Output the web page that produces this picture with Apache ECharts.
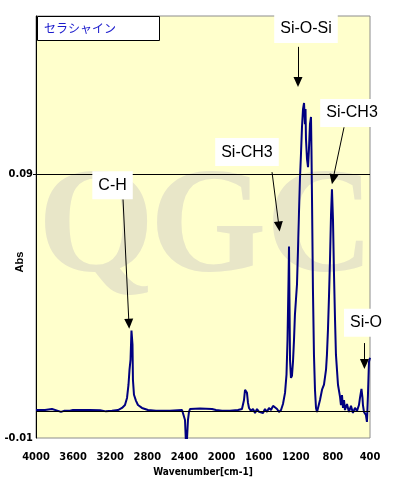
<!DOCTYPE html>
<html><head><meta charset="utf-8">
<script src="https://cdn.jsdelivr.net/npm/echarts@6/dist/echarts.min.js"></script>
<style>html,body{margin:0;padding:0;background:#fff}#c{width:396px;height:488px}</style>
</head><body><div id="c"></div>
<script>
// ---- data ----
const sampleName = 'セラシャイン';
const wavenumbers = [4000,3903,3828,3763,3731,3698,3634,3601,3418,3310,3246,3181,3116,3073,3041,3019,3003,2992,2981,2971,2960,2955,2944,2922,2901,2858,2793,2707,2556,2426,2405,2394,2383,2373,2362,2351,2340,2319,2232,2103,2060,1995,1909,1823,1780,1758,1747,1736,1726,1715,1704,1683,1661,1639,1618,1596,1575,1553,1532,1510,1489,1467,1445,1424,1402,1381,1359,1338,1316,1300,1289,1278,1273,1268,1262,1252,1241,1230,1219,1209,1198,1187,1176,1166,1155,1144,1133,1122,1111,1101,1095,1090,1079,1068,1058,1047,1036,1031,1025,1015,1004,993,982,971,961,939,917,896,874,864,853,842,831,820,810,799,788,777,767,745,723,713,702,691,680,670,648,627,605,584,562,540,519,508,492,481,476,465,454,444,433,422,411,400];
const absorbance = [0.0006,0.0006,0.0010,0.0003,-0.0001,0.0003,0.0003,0.0006,0.0006,0.0005,0.0001,0.0003,0.0006,0.0014,0.0025,0.0052,0.0102,0.0159,0.0197,0.0307,0.0254,0.0120,0.0064,0.0041,0.0025,0.0014,0.0006,0.0003,0.0003,0.0006,0.0003,-0.0032,-0.0125,-0.0108,-0.0032,-0.0001,0.0010,0.0014,0.0012,0.0010,0.0006,0.0003,0.0003,0.0006,0.0010,0.0044,0.0083,0.0090,0.0071,0.0033,0.0014,0.0003,0.0010,-0.0005,0.0010,-0.0001,0.0006,-0.0005,0.0010,-0.0001,0.0014,0.0006,0.0022,0.0025,0.0010,-0.0001,0.0006,0.0029,0.0071,0.0140,0.0273,0.0501,0.0626,0.0425,0.0197,0.0128,0.0136,0.0189,0.0273,0.0368,0.0425,0.0482,0.0615,0.0748,0.0881,0.0976,0.1079,0.1147,0.1170,0.1090,0.1147,0.1033,0.0957,0.0927,0.0995,0.1090,0.1117,0.0995,0.0805,0.0463,0.0216,0.0083,0.0014,-0.0001,0.0006,0.0044,0.0083,0.0102,0.0159,0.0216,0.0311,0.0436,0.0577,0.0748,0.0843,0.0729,0.0520,0.0349,0.0216,0.0102,0.0056,0.0025,0.0063,0.0014,0.0044,0.0006,0.0029,-0.0001,0.0022,-0.0005,0.0014,0.0003,0.0025,0.0052,0.0086,0.0052,0.0025,-0.0001,0.0006,-0.0013,-0.0039,0.0063,0.0189,0.0204];
const xTickLabels = [4000,3600,3200,2800,2400,2000,1600,1200,800,400];
const yTickLabels = [-0.01, 0.09];
const refLines = [0, 0.09];
const annotationLabels = ['C-H','Si-O-Si','Si-CH3','Si-CH3','Si-O'];
const annotationAt = [[3175,0.0858],[1090,0.1451],[1726,0.0984],[594,0.1132],[443,0.0337]];
const arrowFrom = [[3062,0.0805],[1176,0.1383],[1456,0.0908],[680,0.1078],[460,0.0260]];
const arrowTo = [[2998,0.0333],[1176,0.1250],[1381,0.0702],[799,0.0881],[460,0.0181]];

// ---- chart ----
const chart = echarts.init(document.getElementById('c'));
const axisFont = {fontFamily:"'Liberation Sans Narrow','DejaVu Sans Condensed','Liberation Sans',sans-serif", fontWeight:'bold', fontSize:11, color:'#000'};
const seriesData = wavenumbers.map((w,i)=>[w, absorbance[i]]);

const markLineData = refLines.map(v=>({yAxis:v, symbol:'none'}))
  .concat(arrowFrom.map((f,i)=>[{coord:f, symbol:'none'},{coord:arrowTo[i], symbol:'triangle'}]));

const wmFont = "bold 150px 'Liberation Serif', 'DejaVu Serif', serif";
const option = {
  animation:false,
  title:{text:sampleName, left:37, top:16, backgroundColor:'#fff', borderColor:'#000', borderWidth:1,
    padding:[6,44,6,7], textStyle:{fontFamily:"'Noto Sans CJK JP',sans-serif", fontWeight:'normal', fontSize:12, lineHeight:13, color:'#1a1acc'}},
  grid:{left:36, right:26, top:16, bottom:50, show:true, backgroundColor:'#ffffcc', borderColor:'#8c8c8c', borderWidth:1},
  graphic:[
    {type:'text', z:1, silent:true, style:{text:'Q', x:96, y:232, align:'center', verticalAlign:'middle', font:wmFont, fill:'#e8e6c8'}},
    {type:'text', z:1, silent:true, style:{text:'G', x:208, y:232, align:'center', verticalAlign:'middle', font:wmFont, fill:'#e8e6c8'}},
    {type:'text', z:1, silent:true, style:{text:'C', x:320, y:232, align:'center', verticalAlign:'middle', font:wmFont, fill:'#e8e6c8'}},
    {type:'text', z:5, silent:true, rotation:Math.PI/2, x:20, y:262, style:{text:'Abs', align:'center', verticalAlign:'middle', font:"bold 11px 'Liberation Sans Narrow', 'Liberation Sans', sans-serif", fill:'#000'}}
  ],
  xAxis:{type:'value', inverse:true, min:400, max:4000, interval:400,
    axisLine:{show:false}, axisTick:{show:false}, splitLine:{show:false},
    axisLabel:{...axisFont, margin:14, formatter:v=> xTickLabels.includes(v) ? String(v) : ''},
    name:'Wavenumber[cm-1]', nameLocation:'middle', nameGap:29, nameTextStyle:{...axisFont, fontSize:10}},
  yAxis:{type:'value', min:-0.01, max:0.15,
    axisLine:{show:true, lineStyle:{color:'#000', width:1}},
    axisTick:{show:true, customValues:[0.09], length:3, lineStyle:{color:'#000'}},
    splitLine:{show:false},
    axisLabel:{...axisFont, margin:3, customValues:yTickLabels, formatter:v=>v.toFixed(2)}},
  series:[{
    type:'line', data:seriesData, showSymbol:false, clip:true, z:2,
    lineStyle:{color:'#000080', width:2}, itemStyle:{color:'#000080'},
    markLine:{silent:true, symbol:['none','none'], symbolSize:[9,10], precision:4,
      label:{show:false}, lineStyle:{color:'#000', width:1, type:'solid'},
      emphasis:{disabled:true}, data:markLineData},
    markPoint:{silent:true, symbol:'circle', symbolSize:0,
      label:{show:true, position:'inside', formatter:p=>p.name, color:'#000', fontFamily:"'Liberation Sans',Arial,sans-serif", fontSize:16,
        backgroundColor:'#fff', padding:[6,6]},
      data:annotationLabels.map((t,i)=>({name:t, coord:annotationAt[i]}))}
  }]
};
chart.setOption(option);
</script>
</body></html>
